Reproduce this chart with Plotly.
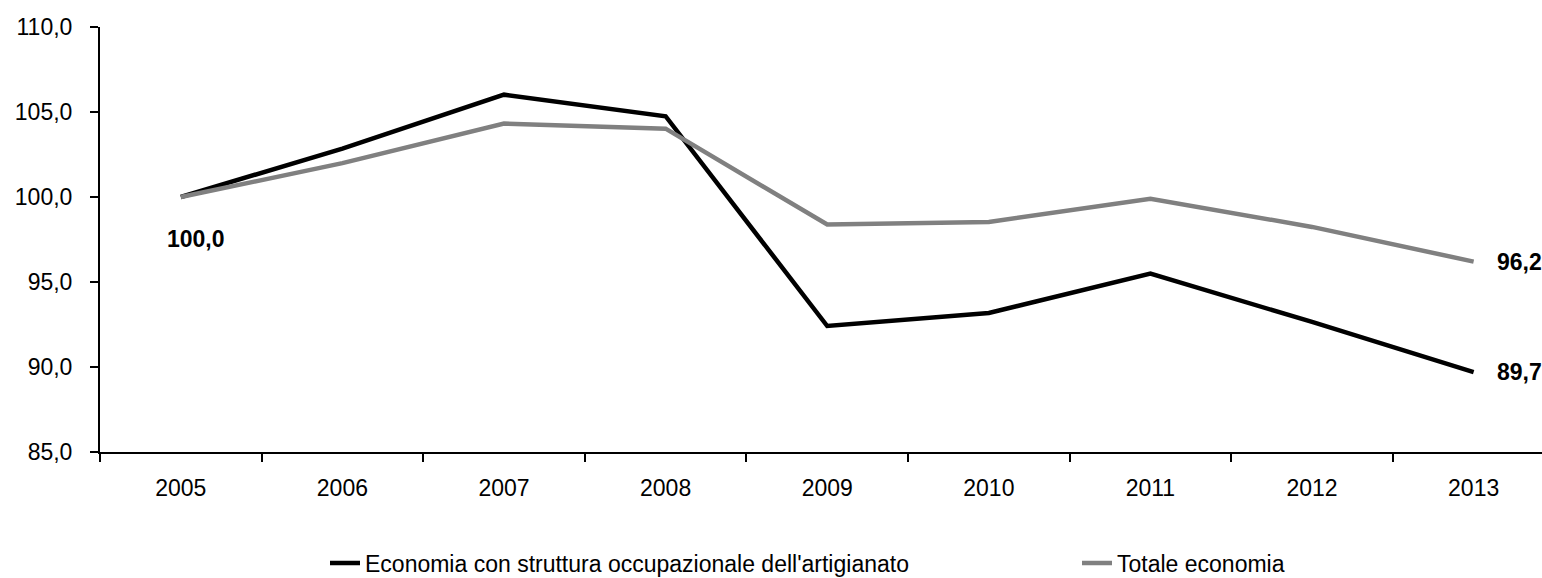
import plotly.graph_objects as go

# Index numbers (2005 = 100)
years = ["2005", "2006", "2007", "2008", "2009", "2010", "2011", "2012", "2013"]
artigianato = [100.0, 102.85, 106.02, 104.75, 92.41, 93.18, 95.49, 92.65, 89.7]
totale = [100.0, 101.99, 104.32, 104.02, 98.38, 98.53, 99.9, 98.24, 96.2]
series_names = ["Economia con struttura occupazionale dell'artigianato", "Totale economia"]
y_ticks = [85, 90, 95, 100, 105, 110]

FONT = "Liberation Sans, Arial, sans-serif"
FS = 23

# plot area geometry in pixels (used to place the legends)
L, W = 100, 1442
PLOT_H = 425


def it(v):
    return f"{v:.1f}".replace(".", ",")


def px_to_paper_x(px):
    return (px - L) / W


fig = go.Figure()
fig.add_trace(go.Scatter(x=years, y=artigianato, mode="lines", name=series_names[0],
                         line=dict(color="#000000", width=4.5), legend="legend"))
fig.add_trace(go.Scatter(x=years, y=totale, mode="lines", name=series_names[1],
                         line=dict(color="#808080", width=4.5), legend="legend2"))

# Value labels: first point and last point of each series
lab_font = dict(size=FS, color="#000000", family=FONT)
fig.add_annotation(x=0, y=artigianato[0], text=f"<b>{it(artigianato[0])}</b>",
                   showarrow=False, xshift=15, yshift=-42, font=lab_font)
fig.add_annotation(x=len(years) - 1, y=totale[-1], text=f"<b>{it(totale[-1])}</b>",
                   showarrow=False, xanchor="left", xshift=21, font=lab_font)
fig.add_annotation(x=len(years) - 1, y=artigianato[-1], text=f"<b>{it(artigianato[-1])}</b>",
                   showarrow=False, xanchor="left", xshift=21, font=lab_font)

legend_common = dict(orientation="h", xanchor="left", y=-(563 - 452) / PLOT_H, yanchor="middle",
                     font=dict(size=FS, family=FONT, color="#000000"), bgcolor="rgba(0,0,0,0)")

fig.update_layout(
    width=1542, height=578,
    margin=dict(l=L, r=0, t=27, b=126, autoexpand=False),
    paper_bgcolor="white", plot_bgcolor="white",
    font=dict(family=FONT, size=FS, color="#000000"),
    showlegend=True,
    legend=dict(x=px_to_paper_x(325), **legend_common),
    legend2=dict(x=px_to_paper_x(1077), **legend_common),
)
fig.update_xaxes(
    type="category", range=[-0.5, 8.423], tickson="boundaries",
    showline=True, linecolor="#000000", linewidth=2,
    ticks="outside", ticklen=8, tickwidth=2, tickcolor="#000000",
    showgrid=False, zeroline=False, ticklabelstandoff=14, automargin=False,
)
fig.update_yaxes(
    range=[85, 110], tickvals=y_ticks, ticktext=[it(v) for v in y_ticks],
    showline=True, linecolor="#000000", linewidth=2,
    ticks="outside", ticklen=8, tickwidth=2, tickcolor="#000000",
    showgrid=False, zeroline=False, ticklabelstandoff=13, automargin=False,
)

fig.write_html("out.html")
